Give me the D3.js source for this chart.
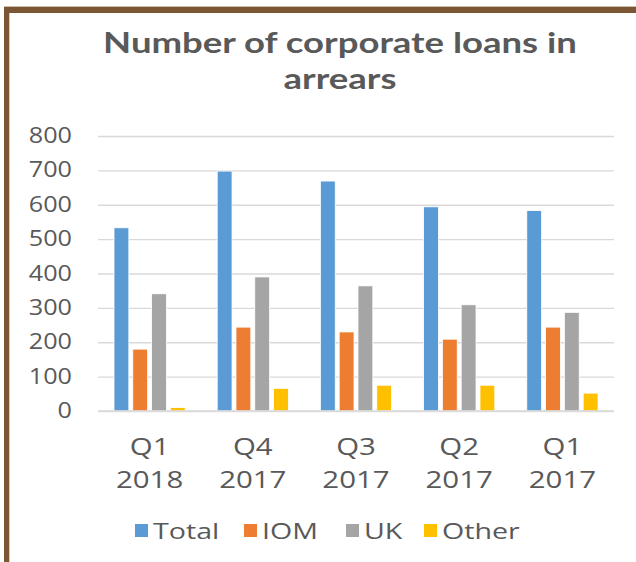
<!DOCTYPE html>
<html>
<head>
<meta charset="utf-8">
<script src="https://cdn.jsdelivr.net/npm/d3@7"></script>
<style>
  html, body { margin: 0; padding: 0; background: #fff; }
  svg { display: block; }
  text { font-family: "Open Sans", "Noto Sans", sans-serif; fill: #595959; }
  .title { font-family: Lato, "Open Sans", sans-serif; }
</style>
</head>
<body>
<div id="chart"></div>
<script>
// Quarters, newest first
const categories = [["Q1", "2018"], ["Q4", "2017"], ["Q3", "2017"], ["Q2", "2017"], ["Q1", "2017"]];
const seriesNames = ["Total", "IOM", "UK", "Other"];
const totalValues = [533, 698, 669, 594, 583];
const iomValues   = [180, 244, 230, 209, 244];
const ukValues    = [341, 390, 364, 309, 287];
const otherValues = [10, 66, 75, 75, 52];
const yTicks = [0, 100, 200, 300, 400, 500, 600, 700, 800];
const titleLines = ["Number of corporate loans in", "arrears"];

const seriesValues = [totalValues, iomValues, ukValues, otherValues];
const colors = ["#5b9bd5", "#ed7d31", "#a5a5a5", "#ffc000"];

const W = 636, H = 562;
const svg = d3.select("#chart").append("svg").attr("width", W).attr("height", H);

// frame: brown rule along the top and left edges
svg.append("rect").attr("x", 4).attr("y", 6).attr("width", W - 4).attr("height", 1).attr("fill", "#cdbfa9");
svg.append("rect").attr("x", 4).attr("y", 7).attr("width", W - 4).attr("height", 6).attr("fill", "#7b5634");
svg.append("rect").attr("x", 4).attr("y", 7).attr("width", 5.3).attr("height", H - 7).attr("fill", "#7b5634");

// horizontally widened text, as in the chart's typography
function label(g, x, y, str, size, anchor, sx, weight) {
  const t = g.append("text")
    .attr("transform", `translate(${x},${y}) scale(${sx},1)`)
    .attr("text-anchor", anchor)
    .style("font-size", size + "px")
    .text(str);
  if (weight) t.style("font-weight", weight);
  return t;
}

const plot = { left: 98, right: 614, top: 136, bottom: 411 };

const x0 = d3.scaleBand()
  .domain(d3.range(categories.length))
  .range([plot.left, plot.right])
  .paddingInner(0.31)
  .paddingOuter(0.155);

const x1 = d3.scaleBand()
  .domain(d3.range(seriesNames.length))
  .range([0, x0.bandwidth()])
  .paddingInner(0.21);

const y = d3.scaleLinear().domain([0, 800]).range([plot.bottom, plot.top]);

// title, widened so the first line spans 474px
const titleG = svg.append("g").attr("class", "title");
const titleNodes = titleLines.map((line, i) =>
  label(titleG, 340, 53 + i * 36, line, 29, "middle", 1, "bold").attr("class", "title"));
const titleSX = 474 / titleNodes[0].node().getComputedTextLength();
titleNodes.forEach((t, i) => t.attr("transform", `translate(340,${53 + i * 36}) scale(${titleSX},1)`));

// gridlines
const yAxis = d3.axisLeft(y).tickValues(yTicks).tickSize(-(plot.right - plot.left)).tickFormat("");
const gy = svg.append("g").attr("transform", `translate(${plot.left},0)`).call(yAxis);
gy.select(".domain").remove();
gy.selectAll(".tick line").attr("stroke", "#d9d9d9").attr("stroke-width", 1.3);

// y tick labels
const ylab = svg.append("g");
yTicks.forEach(v => label(ylab, 72, y(v) + 7, String(v), 21, "end", 1.2));

// bars
const groups = svg.append("g").selectAll("g")
  .data(categories.map((c, i) => i))
  .join("g")
  .attr("transform", i => `translate(${x0(i)},0)`);

groups.selectAll("rect")
  .data(i => seriesValues.map((vals, s) => ({ s, v: vals[i] })))
  .join("rect")
  .attr("x", d => x1(d.s))
  .attr("y", d => y(d.v))
  .attr("width", x1.bandwidth())
  .attr("height", d => y(0) - y(d.v))
  .attr("fill", d => colors[d.s])
  .attr("stroke", "#fff")
  .attr("stroke-width", 0.8);

// baseline
svg.append("line")
  .attr("x1", plot.left).attr("x2", plot.right)
  .attr("y1", y(0)).attr("y2", y(0))
  .attr("stroke", "#d9d9d9").attr("stroke-width", 1.3);

// category labels
const xl = svg.append("g");
categories.forEach((c, i) => {
  const cx = x0(i) + x0.bandwidth() / 2;
  label(xl, cx, 455, c[0], 23, "middle", 1.28);
  label(xl, cx, 488, c[1], 23, "middle", 1.28);
});

// legend
const legendX = [135, 244, 346, 424];
const leg = svg.append("g");
seriesNames.forEach((name, s) => {
  leg.append("rect")
    .attr("x", legendX[s]).attr("y", 524)
    .attr("width", 13).attr("height", 13)
    .attr("fill", colors[s]);
  label(leg, legendX[s] + 18, 539, name, 22, "start", 1.3);
});
</script>
</body>
</html>
